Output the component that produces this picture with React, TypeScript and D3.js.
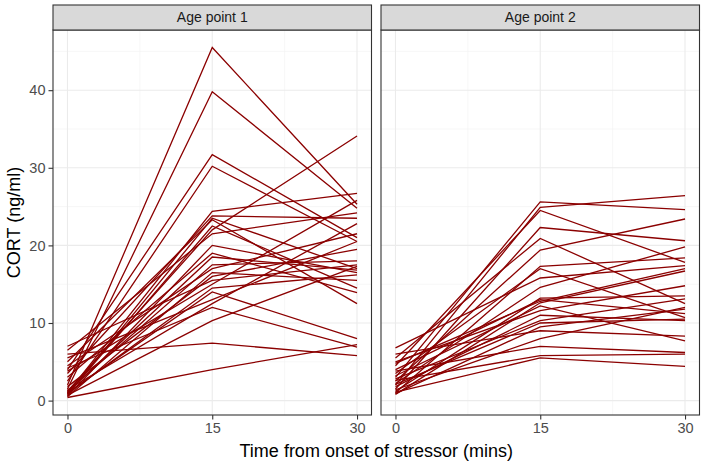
import { useEffect, useRef } from 'react';
import * as d3 from 'd3';

const times = [0, 15, 30];
const panels = ['Age point 1', 'Age point 2'];

// CORT per subject at 0, 15, 30 mins
const age1 = [
  [2.0, 45.5, 25.3], [1.5, 39.8, 24.8], [4.0, 31.7, 21.0], [2.5, 30.2, 20.5],
  [1.0, 24.4, 26.7], [3.5, 23.8, 23.5], [0.8, 23.5, 17.0], [5.0, 23.3, 12.5],
  [1.2, 22.0, 34.1], [6.5, 21.5, 24.2], [0.6, 20.0, 16.5], [3.0, 19.0, 13.9],
  [1.2, 17.5, 18.0], [4.5, 17.0, 21.5], [0.5, 16.5, 15.5], [1.8, 16.0, 19.5],
  [7.0, 15.5, 17.5], [3.8, 15.0, 25.8], [0.9, 14.5, 16.2], [1.0, 14.0, 8.0],
  [5.5, 13.0, 20.5], [1.4, 12.5, 22.8], [0.7, 10.3, 17.3], [6.0, 7.4, 5.8],
  [0.4, 4.0, 7.2], [1.1, 18.5, 16.8], [0.8, 22.5, 14.5], [4.2, 12.0, 6.9],
];
const age2 = [
  [3.0, 25.6, 24.6], [2.0, 24.9, 26.4], [4.5, 24.5, 17.8], [1.5, 22.3, 20.6],
  [5.5, 20.9, 12.5], [2.5, 19.4, 23.4], [1.0, 17.3, 18.4], [3.5, 17.0, 10.7],
  [6.8, 15.8, 17.4], [2.2, 14.6, 19.8], [1.2, 13.2, 13.5], [4.0, 13.0, 11.2],
  [0.8, 12.6, 16.7], [3.2, 12.2, 7.7], [5.0, 11.6, 14.8], [1.8, 11.0, 10.3],
  [2.8, 10.3, 13.1], [0.9, 9.5, 11.8], [6.0, 9.0, 8.3], [1.4, 8.0, 12.0],
  [3.8, 7.0, 6.2], [2.6, 5.8, 6.0], [1.1, 5.5, 4.4], [4.8, 12.8, 17.0],
  [2.1, 10.0, 10.5],
];
const yTicks = [0, 10, 20, 30, 40];
const yMinor = [5, 15, 25, 35, 45];
const xMinor = [7.5, 22.5];

export default function App() {
  const svgRef = useRef<SVGSVGElement>(null);

  useEffect(() => {
    if (!svgRef.current) return;
    const svg = d3.select(svgRef.current);
    svg.selectAll('*').remove();

    const width = 702;
    const height = 462;
    const top = 30;
    const bottom = 415;
    const stripTop = 5;
    const panelX = [[53, 371.5], [381, 699.5]];
    const font = "'Liberation Sans', Arial, sans-serif";

    const all = [...age1, ...age2].flat();
    const lo = d3.min(all)!;
    const hi = d3.max(all)!;
    const pad = (hi - lo) * 0.05;
    const y = d3.scaleLinear().domain([lo - pad, hi + pad]).range([bottom, top]);

    svg.append('rect').attr('width', width).attr('height', height).attr('fill', '#fff');

    [age1, age2].forEach((rows, i) => {
      const [x0, x1] = panelX[i];
      const x = d3.scaleLinear().domain([-1.5, 31.5]).range([x0, x1]);
      const g = svg.append('g');

      // minor grid
      yMinor.forEach(v => {
        g.append('line').attr('x1', x0).attr('x2', x1).attr('y1', y(v)).attr('y2', y(v))
          .attr('stroke', '#F2F2F2').attr('stroke-width', 0.6);
      });
      xMinor.forEach(v => {
        g.append('line').attr('x1', x(v)).attr('x2', x(v)).attr('y1', top).attr('y2', bottom)
          .attr('stroke', '#F2F2F2').attr('stroke-width', 0.6);
      });
      // major grid
      yTicks.forEach(v => {
        g.append('line').attr('x1', x0).attr('x2', x1).attr('y1', y(v)).attr('y2', y(v))
          .attr('stroke', '#EBEBEB').attr('stroke-width', 1.1);
      });
      times.forEach(v => {
        g.append('line').attr('x1', x(v)).attr('x2', x(v)).attr('y1', top).attr('y2', bottom)
          .attr('stroke', '#EBEBEB').attr('stroke-width', 1.1);
      });

      const line = d3.line<number>()
        .x((_, j) => x(times[j]))
        .y(d => y(d));

      g.selectAll('.subject')
        .data(rows)
        .enter()
        .append('path')
        .attr('class', 'subject')
        .attr('fill', 'none')
        .attr('stroke', '#8B0000')
        .attr('stroke-width', 1.3)
        .attr('d', d => line(d));

      // panel border
      g.append('rect').attr('x', x0).attr('y', top).attr('width', x1 - x0).attr('height', bottom - top)
        .attr('fill', 'none').attr('stroke', '#333333').attr('stroke-width', 1.1);

      // strip
      g.append('rect').attr('x', x0).attr('y', stripTop).attr('width', x1 - x0).attr('height', top - stripTop)
        .attr('fill', '#D9D9D9').attr('stroke', '#333333').attr('stroke-width', 1.1);
      g.append('text')
        .attr('x', (x0 + x1) / 2)
        .attr('y', (stripTop + top) / 2)
        .attr('dy', '0.35em')
        .attr('text-anchor', 'middle')
        .attr('font-family', font)
        .attr('font-size', 14)
        .attr('fill', '#1A1A1A')
        .text(panels[i]);

      // x axis
      const xAxis = g.append('g')
        .attr('transform', `translate(0,${bottom})`)
        .call(d3.axisBottom(x).tickValues(times).tickSize(4.5).tickPadding(3).tickFormat(d => String(d)));
      xAxis.select('.domain').remove();
      xAxis.selectAll('line').attr('stroke', '#333333').attr('stroke-width', 1.1);
      xAxis.selectAll('text').attr('fill', '#4D4D4D').attr('font-size', 14.5).attr('font-family', font);

      if (i === 0) {
        const yAxis = g.append('g')
          .attr('transform', `translate(${x0},0)`)
          .call(d3.axisLeft(y).tickValues(yTicks).tickSize(4.5).tickPadding(3).tickFormat(d => String(d)));
        yAxis.select('.domain').remove();
        yAxis.selectAll('line').attr('stroke', '#333333').attr('stroke-width', 1.1);
        yAxis.selectAll('text').attr('fill', '#4D4D4D').attr('font-size', 14.5).attr('font-family', font);
      }
    });

    svg.append('text')
      .attr('x', (53 + 699.5) / 2)
      .attr('y', 457)
      .attr('text-anchor', 'middle')
      .attr('font-family', font)
      .attr('font-size', 18)
      .attr('fill', '#000')
      .text('Time from onset of stressor (mins)');

    svg.append('text')
      .attr('transform', `translate(20,${(top + bottom) / 2}) rotate(-90)`)
      .attr('text-anchor', 'middle')
      .attr('font-family', font)
      .attr('font-size', 18)
      .attr('fill', '#000')
      .text('CORT (ng/ml)');
  }, []);

  return (
    <div style={{ position: 'fixed', left: 0, top: 0 }}>
      <svg ref={svgRef} width={702} height={462} style={{ display: 'block' }} />
    </div>
  );
}
